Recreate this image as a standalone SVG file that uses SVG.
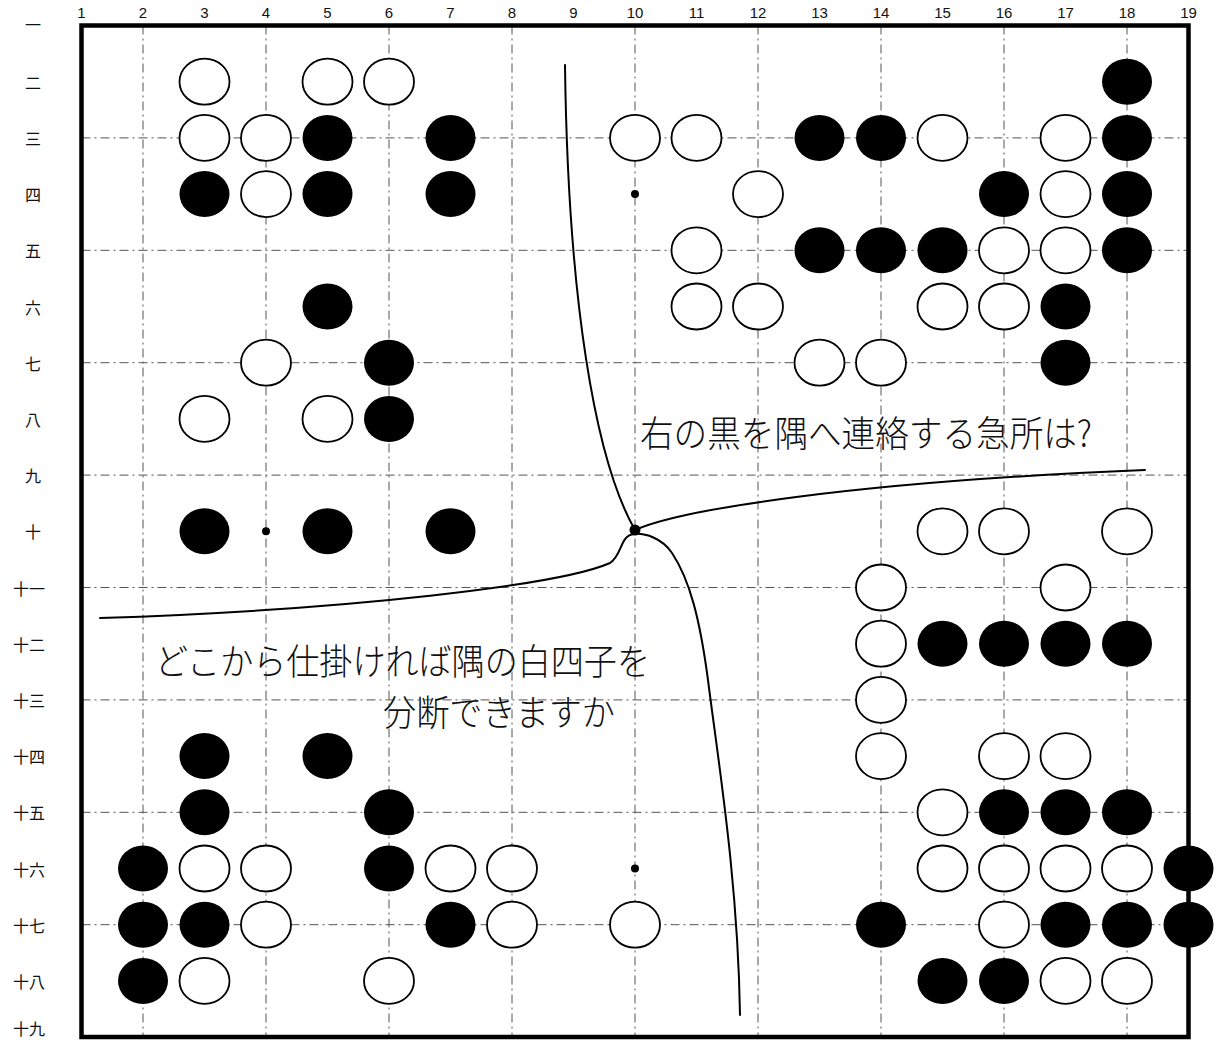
<svg xmlns="http://www.w3.org/2000/svg" width="1218" height="1042" viewBox="0 0 1218 1042">
<style>
.grid line{stroke:#555;stroke-width:1;stroke-dasharray:9 4 2 4}
.w{fill:#fff;stroke:#000;stroke-width:1.8}
.b{fill:#000}
.cl{font-family:"Liberation Sans","DejaVu Sans",sans-serif;font-size:15px;fill:#111;text-anchor:middle}
.rl{font-family:"Noto Sans CJK JP","Noto Sans",sans-serif;font-size:16px;fill:#111;text-anchor:middle;dominant-baseline:central}
.hw{font-family:"Noto Sans CJK JP",sans-serif;font-size:36px;font-weight:300;fill:#111}
.curve{fill:none;stroke:#000;stroke-width:2;stroke-linecap:round}
</style>
<rect width="1218" height="1042" fill="#fff"/>
<g id="col-labels" class="cl">
<text x="81.5" y="18">1</text><text x="143" y="18">2</text><text x="204.5" y="18">3</text><text x="266" y="18">4</text><text x="327.5" y="18">5</text><text x="389" y="18">6</text><text x="450.5" y="18">7</text><text x="512" y="18">8</text><text x="573.5" y="18">9</text><text x="635" y="18">10</text><text x="696.5" y="18">11</text><text x="758" y="18">12</text><text x="819.5" y="18">13</text><text x="881" y="18">14</text><text x="942.5" y="18">15</text><text x="1004" y="18">16</text><text x="1065.5" y="18">17</text><text x="1127" y="18">18</text><text x="1188.5" y="18">19</text>
</g>
<g id="row-labels" class="rl">
<text x="33" y="24">一</text><text x="33" y="81.7">二</text><text x="33" y="137.9">三</text><text x="33" y="194.1">四</text><text x="33" y="250.3">五</text><text x="33" y="306.5">六</text><text x="33" y="362.7">七</text><text x="33" y="418.9">八</text><text x="33" y="475.1">九</text><text x="33" y="531.3">十</text><text x="29" y="587.5">十一</text><text x="29" y="643.7">十二</text><text x="29" y="699.9">十三</text><text x="29" y="756.1">十四</text><text x="29" y="812.3">十五</text><text x="29" y="868.5">十六</text><text x="29" y="924.7">十七</text><text x="29" y="980.9">十八</text><text x="29" y="1028">十九</text>
</g>
<g id="grid" class="grid">
<line x1="143" y1="25.5" x2="143" y2="1037"/><line x1="266" y1="25.5" x2="266" y2="1037"/><line x1="389" y1="25.5" x2="389" y2="1037"/><line x1="512" y1="25.5" x2="512" y2="1037"/><line x1="635" y1="25.5" x2="635" y2="1037"/><line x1="758" y1="25.5" x2="758" y2="1037"/><line x1="881" y1="25.5" x2="881" y2="1037"/><line x1="1004" y1="25.5" x2="1004" y2="1037"/><line x1="1127" y1="25.5" x2="1127" y2="1037"/>
<line x1="81.5" y1="137.9" x2="1188.5" y2="137.9"/><line x1="81.5" y1="250.3" x2="1188.5" y2="250.3"/><line x1="81.5" y1="362.7" x2="1188.5" y2="362.7"/><line x1="81.5" y1="475.1" x2="1188.5" y2="475.1"/><line x1="81.5" y1="587.5" x2="1188.5" y2="587.5"/><line x1="81.5" y1="699.9" x2="1188.5" y2="699.9"/><line x1="81.5" y1="812.3" x2="1188.5" y2="812.3"/><line x1="81.5" y1="924.7" x2="1188.5" y2="924.7"/>
</g>
<rect id="border" x="81.5" y="25.5" width="1107" height="1011.5" fill="none" stroke="#000" stroke-width="4.5"/>
<g id="hoshi" fill="#000">
<circle cx="635" cy="194.1" r="4"/><circle cx="266" cy="531.3" r="4"/><circle cx="635" cy="868.5" r="4"/>
</g>
<g id="connectors">
<path class="curve" d="M565,65 C568,300 595,460 635,530 C680,510 850,482 1145,470"/>
<path class="curve" d="M100,618 C350,610 560,585 610,563 C622,556 620,535 634,534 C645,533 662,538 672,553 C690,580 700,620 708,680 C718,760 738,880 740,1015"/>
<circle cx="635" cy="530" r="5.5" fill="#000"/>
</g>
<g id="stones">
<g id="row2"><ellipse class="w" cx="204.5" cy="81.7" rx="25" ry="23"/><ellipse class="w" cx="327.5" cy="81.7" rx="25" ry="23"/><ellipse class="w" cx="389" cy="81.7" rx="25" ry="23"/><ellipse class="b" cx="1127" cy="81.7" rx="25" ry="23"/></g>
<g id="row3"><ellipse class="w" cx="204.5" cy="137.9" rx="25" ry="23"/><ellipse class="w" cx="266" cy="137.9" rx="25" ry="23"/><ellipse class="b" cx="327.5" cy="137.9" rx="25" ry="23"/><ellipse class="b" cx="450.5" cy="137.9" rx="25" ry="23"/><ellipse class="w" cx="635" cy="137.9" rx="25" ry="23"/><ellipse class="w" cx="696.5" cy="137.9" rx="25" ry="23"/><ellipse class="b" cx="819.5" cy="137.9" rx="25" ry="23"/><ellipse class="b" cx="881" cy="137.9" rx="25" ry="23"/><ellipse class="w" cx="942.5" cy="137.9" rx="25" ry="23"/><ellipse class="w" cx="1065.5" cy="137.9" rx="25" ry="23"/><ellipse class="b" cx="1127" cy="137.9" rx="25" ry="23"/></g>
<g id="row4"><ellipse class="b" cx="204.5" cy="194.1" rx="25" ry="23"/><ellipse class="w" cx="266" cy="194.1" rx="25" ry="23"/><ellipse class="b" cx="327.5" cy="194.1" rx="25" ry="23"/><ellipse class="b" cx="450.5" cy="194.1" rx="25" ry="23"/><ellipse class="w" cx="758" cy="194.1" rx="25" ry="23"/><ellipse class="b" cx="1004" cy="194.1" rx="25" ry="23"/><ellipse class="w" cx="1065.5" cy="194.1" rx="25" ry="23"/><ellipse class="b" cx="1127" cy="194.1" rx="25" ry="23"/></g>
<g id="row5"><ellipse class="w" cx="696.5" cy="250.3" rx="25" ry="23"/><ellipse class="b" cx="819.5" cy="250.3" rx="25" ry="23"/><ellipse class="b" cx="881" cy="250.3" rx="25" ry="23"/><ellipse class="b" cx="942.5" cy="250.3" rx="25" ry="23"/><ellipse class="w" cx="1004" cy="250.3" rx="25" ry="23"/><ellipse class="w" cx="1065.5" cy="250.3" rx="25" ry="23"/><ellipse class="b" cx="1127" cy="250.3" rx="25" ry="23"/></g>
<g id="row6"><ellipse class="b" cx="327.5" cy="306.5" rx="25" ry="23"/><ellipse class="w" cx="696.5" cy="306.5" rx="25" ry="23"/><ellipse class="w" cx="758" cy="306.5" rx="25" ry="23"/><ellipse class="w" cx="942.5" cy="306.5" rx="25" ry="23"/><ellipse class="w" cx="1004" cy="306.5" rx="25" ry="23"/><ellipse class="b" cx="1065.5" cy="306.5" rx="25" ry="23"/></g>
<g id="row7"><ellipse class="w" cx="266" cy="362.7" rx="25" ry="23"/><ellipse class="b" cx="389" cy="362.7" rx="25" ry="23"/><ellipse class="w" cx="819.5" cy="362.7" rx="25" ry="23"/><ellipse class="w" cx="881" cy="362.7" rx="25" ry="23"/><ellipse class="b" cx="1065.5" cy="362.7" rx="25" ry="23"/></g>
<g id="row8"><ellipse class="w" cx="204.5" cy="418.9" rx="25" ry="23"/><ellipse class="w" cx="327.5" cy="418.9" rx="25" ry="23"/><ellipse class="b" cx="389" cy="418.9" rx="25" ry="23"/></g>
<g id="row10"><ellipse class="b" cx="204.5" cy="531.3" rx="25" ry="23"/><ellipse class="b" cx="327.5" cy="531.3" rx="25" ry="23"/><ellipse class="b" cx="450.5" cy="531.3" rx="25" ry="23"/><ellipse class="w" cx="942.5" cy="531.3" rx="25" ry="23"/><ellipse class="w" cx="1004" cy="531.3" rx="25" ry="23"/><ellipse class="w" cx="1127" cy="531.3" rx="25" ry="23"/></g>
<g id="row11"><ellipse class="w" cx="881" cy="587.5" rx="25" ry="23"/><ellipse class="w" cx="1065.5" cy="587.5" rx="25" ry="23"/></g>
<g id="row12"><ellipse class="w" cx="881" cy="643.7" rx="25" ry="23"/><ellipse class="b" cx="942.5" cy="643.7" rx="25" ry="23"/><ellipse class="b" cx="1004" cy="643.7" rx="25" ry="23"/><ellipse class="b" cx="1065.5" cy="643.7" rx="25" ry="23"/><ellipse class="b" cx="1127" cy="643.7" rx="25" ry="23"/></g>
<g id="row13"><ellipse class="w" cx="881" cy="699.9" rx="25" ry="23"/></g>
<g id="row14"><ellipse class="b" cx="204.5" cy="756.1" rx="25" ry="23"/><ellipse class="b" cx="327.5" cy="756.1" rx="25" ry="23"/><ellipse class="w" cx="881" cy="756.1" rx="25" ry="23"/><ellipse class="w" cx="1004" cy="756.1" rx="25" ry="23"/><ellipse class="w" cx="1065.5" cy="756.1" rx="25" ry="23"/></g>
<g id="row15"><ellipse class="b" cx="204.5" cy="812.3" rx="25" ry="23"/><ellipse class="b" cx="389" cy="812.3" rx="25" ry="23"/><ellipse class="w" cx="942.5" cy="812.3" rx="25" ry="23"/><ellipse class="b" cx="1004" cy="812.3" rx="25" ry="23"/><ellipse class="b" cx="1065.5" cy="812.3" rx="25" ry="23"/><ellipse class="b" cx="1127" cy="812.3" rx="25" ry="23"/></g>
<g id="row16"><ellipse class="b" cx="143" cy="868.5" rx="25" ry="23"/><ellipse class="w" cx="204.5" cy="868.5" rx="25" ry="23"/><ellipse class="w" cx="266" cy="868.5" rx="25" ry="23"/><ellipse class="b" cx="389" cy="868.5" rx="25" ry="23"/><ellipse class="w" cx="450.5" cy="868.5" rx="25" ry="23"/><ellipse class="w" cx="512" cy="868.5" rx="25" ry="23"/><ellipse class="w" cx="942.5" cy="868.5" rx="25" ry="23"/><ellipse class="w" cx="1004" cy="868.5" rx="25" ry="23"/><ellipse class="w" cx="1065.5" cy="868.5" rx="25" ry="23"/><ellipse class="w" cx="1127" cy="868.5" rx="25" ry="23"/><ellipse class="b" cx="1188.5" cy="868.5" rx="25" ry="23"/></g>
<g id="row17"><ellipse class="b" cx="143" cy="924.7" rx="25" ry="23"/><ellipse class="b" cx="204.5" cy="924.7" rx="25" ry="23"/><ellipse class="w" cx="266" cy="924.7" rx="25" ry="23"/><ellipse class="b" cx="450.5" cy="924.7" rx="25" ry="23"/><ellipse class="w" cx="512" cy="924.7" rx="25" ry="23"/><ellipse class="w" cx="635" cy="924.7" rx="25" ry="23"/><ellipse class="b" cx="881" cy="924.7" rx="25" ry="23"/><ellipse class="w" cx="1004" cy="924.7" rx="25" ry="23"/><ellipse class="b" cx="1065.5" cy="924.7" rx="25" ry="23"/><ellipse class="b" cx="1127" cy="924.7" rx="25" ry="23"/><ellipse class="b" cx="1188.5" cy="924.7" rx="25" ry="23"/></g>
<g id="row18"><ellipse class="b" cx="143" cy="980.9" rx="25" ry="23"/><ellipse class="w" cx="204.5" cy="980.9" rx="25" ry="23"/><ellipse class="w" cx="389" cy="980.9" rx="25" ry="23"/><ellipse class="b" cx="942.5" cy="980.9" rx="25" ry="23"/><ellipse class="b" cx="1004" cy="980.9" rx="25" ry="23"/><ellipse class="w" cx="1065.5" cy="980.9" rx="25" ry="23"/><ellipse class="w" cx="1127" cy="980.9" rx="25" ry="23"/></g>
</g>
<g id="notes" class="hw">
<text x="640" y="447" textLength="452" lengthAdjust="spacingAndGlyphs">右の黒を隅へ連絡する急所は?</text>
<text x="155" y="675" textLength="495" lengthAdjust="spacingAndGlyphs">どこから仕掛ければ隅の白四子を</text>
<text x="383" y="726" textLength="232" lengthAdjust="spacingAndGlyphs">分断できますか</text>
</g>
</svg>
